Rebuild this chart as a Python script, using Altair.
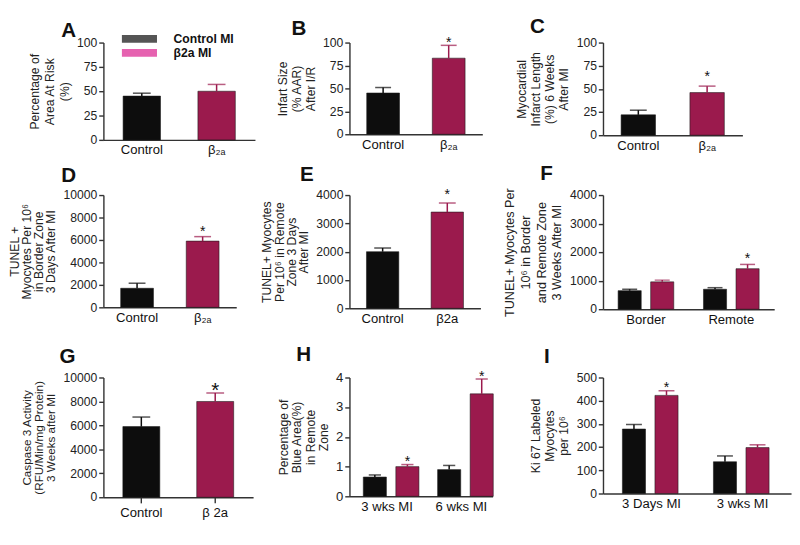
import altair as alt
import pandas as pd

FONT = "Liberation Sans"
GROUPS = ["Control MI", "β2a MI"]
BAR_COLORS = ["#0d0d0d", "#9b1a4d"]
LEGEND_COLORS = ["#0d0d0d", "#dc1f8e"]

# ---------------- data ----------------
A_cats = ["Control", "β₂ₐ"]
A_mean = [45, 50]
A_err = [3, 7]
A_sig = [False, False]

B_cats = ["Control", "β₂ₐ"]
B_mean = [45, 83]
B_err = [6, 14]
B_sig = [False, True]

C_cats = ["Control", "β₂ₐ"]
C_mean = [22, 46]
C_err = [5, 7]
C_sig = [False, True]

D_cats = ["Control", "β₂ₐ"]
D_mean = [1700, 5900]
D_err = [450, 400]
D_sig = [False, True]

E_cats = ["Control", "β2a"]
E_mean = [2000, 3400]
E_err = [130, 320]
E_sig = [False, True]

F_cats = ["Border", "Remote"]
F_ctrl_mean = [650, 700]
F_ctrl_err = [50, 55]
F_b2a_mean = [960, 1420]
F_b2a_err = [60, 150]
F_b2a_sig = [False, True]

G_cats = ["Control", "β 2a"]
G_mean = [5900, 8000]
G_err = [800, 700]
G_sig = [False, True]

H_cats = ["3 wks MI", "6 wks MI"]
H_ctrl_mean = [0.65, 0.9]
H_ctrl_err = [0.07, 0.14]
H_b2a_mean = [1.0, 3.45]
H_b2a_err = [0.07, 0.5]
H_b2a_sig = [True, True]

I_cats = ["3 Days MI", "3 wks MI"]
I_ctrl_mean = [278, 137]
I_ctrl_err = [20, 25]
I_b2a_mean = [423, 198]
I_b2a_err = [20, 12]
I_b2a_sig = [True, False]

TITLES = {
    "A": ["Percentage of", "Area At Risk", "(%)"],
    "B": ["Infart Size", "(% AAR)", "After I/R"],
    "C": ["Myocardial", "Infarct Length", "(%) 6 Weeks", "After MI"],
    "D": ["TUNEL +", "Myocytes Per 10⁶", "in Border Zone", "3 Days After MI"],
    "E": ["TUNEL+ Myocytes", "Per 10⁶ in Remote", "Zone 3 Days", "After MI"],
    "F": ["TUNEL+ Myocytes Per", "10⁶ in Border", "and Remote Zone", "3 Weeks After MI"],
    "G": ["Caspase 3 Activity", "(RFU/Min/mg Protein)", "3 Weeks after MI"],
    "H": ["Percentage of", "Blue Area(%)", "in Remote", "Zone"],
    "I": ["Ki 67 Labeled", "Myocytes", "per 10⁶"],
}


def single_df(cats, mean, err, sig):
    return pd.DataFrame({"cat": cats, "grp": GROUPS, "mean": mean, "err": err, "sig": sig})


def grouped_df(cats, cm, ce, bm, be, bs):
    rows = []
    for i, c in enumerate(cats):
        rows.append(dict(cat=c, grp=GROUPS[0], mean=cm[i], err=ce[i], sig=False))
        rows.append(dict(cat=c, grp=GROUPS[1], mean=bm[i], err=be[i], sig=bs[i]))
    return pd.DataFrame(rows)


def spacer(w, h):
    return (alt.Chart(pd.DataFrame({"v": [0]}))
            .mark_text()
            .encode(text=alt.value(""))
            .properties(width=w, height=h))


def panel(df, cats, letter, ymax, ystep, w, h, ldx, loff, star_dy, capw,
          grouped=False, xpad=(0.5, 0.263, 0.5), opad=0.3, xticks=False,
          tsize=13, tlh=15, lsize=13, xlsize=14, star_size=15, legend=False):
    pi, po, al = xpad
    xscale = alt.Scale(paddingInner=pi, paddingOuter=po, align=al)
    xaxis = alt.Axis(title="", labelAngle=0, ticks=xticks, tickSize=6,
                     labelFontSize=xlsize, labelPadding=4, labelColor="#111")
    x = alt.X("cat:N", sort=cats, scale=xscale, axis=xaxis)
    yaxis = alt.Axis(title=TITLES[letter], values=list(range(0, ymax + 1, ystep)),
                     format="d", titleFontSize=tsize, titleLineHeight=tlh,
                     labelFontSize=lsize)
    yscale = alt.Scale(domain=[0, ymax], nice=False)

    def Y(field):
        return alt.Y(field, scale=yscale, axis=yaxis)

    color = alt.Color("grp:N", scale=alt.Scale(domain=GROUPS, range=BAR_COLORS), legend=None)
    enc = dict(x=x, color=color)
    if grouped:
        enc["xOffset"] = alt.XOffset("grp:N", sort=GROUPS,
                                     scale=alt.Scale(paddingInner=opad, paddingOuter=0))
    base = alt.Chart(df).transform_calculate(top="datum.mean + datum.err")
    bars = base.mark_bar(stroke="#1a1a1a", strokeWidth=0.6).encode(y=Y("mean:Q"), **enc)
    whisk = base.mark_rule(strokeWidth=1.6).encode(y=Y("mean:Q"), y2="top:Q", **enc)
    cap = base.mark_tick(thickness=1.6, size=capw).encode(y=Y("top:Q"), **enc)
    senc = dict(x=x)
    if grouped:
        senc["xOffset"] = enc["xOffset"]
    star = (base.transform_filter("datum.sig")
            .mark_text(text="*", fontSize=star_size, dy=star_dy, baseline="middle",
                       font=FONT, color="#111")
            .encode(y=Y("top:Q"), **senc))
    layers = [bars, whisk, cap, star]
    if legend:
        leg = (alt.Chart(pd.DataFrame({"grp": GROUPS}))
               .transform_filter("false")
               .mark_square()
               .encode(fill=alt.Fill("grp:N",
                                     scale=alt.Scale(domain=GROUPS, range=LEGEND_COLORS),
                                     legend=alt.Legend(
                                         orient="none", legendX=31, legendY=-11.5,
                                         title="", padding=0, rowPadding=0,
                                         symbolType="M-2.5,-0.55H2.5V0.55H-2.5Z",
                                         symbolSize=225, symbolStrokeWidth=0,
                                         labelFontSize=13, labelFontWeight="bold",
                                         labelFont=FONT, labelColor="#111",
                                         labelOffset=29))))
        layers.append(leg)
    title = alt.TitleParams(text=letter, anchor="start", frame="group", dx=ldx,
                            offset=loff, fontSize=22, fontWeight="bold", font=FONT,
                            color="#111", baseline="alphabetic")
    ch = alt.layer(*layers).properties(width=w, height=h, title=title)
    if legend:
        ch = ch.resolve_scale(fill="independent").resolve_legend(fill="independent")
    return ch


pA = panel(single_df(A_cats, A_mean, A_err, A_sig), A_cats, "A", 100, 25, 162, 104,
           -45, -28, -3, 19, tlh=16, legend=True)
pB = panel(single_df(B_cats, B_mean, B_err, B_sig), B_cats, "B", 100, 25, 142, 98,
           -62, -21, -3, 17)
pC = panel(single_df(C_cats, C_mean, C_err, C_sig), C_cats, "C", 100, 25, 149, 99,
           -78, -18, -11, 18)
pD = panel(single_df(D_cats, D_mean, D_err, D_sig), D_cats, "D", 10000, 2000, 142, 120,
           -45, -14, -6, 18, tsize=13, tlh=13)
pE = panel(single_df(E_cats, E_mean, E_err, E_sig), E_cats, "E", 4000, 1000, 140, 121,
           -53, -14, -9, 18, tsize=13, tlh=13)
pF = panel(grouped_df(F_cats, F_ctrl_mean, F_ctrl_err, F_b2a_mean, F_b2a_err, F_b2a_sig),
           F_cats, "F", 4000, 1000, 183, 122, -67, -14, -7, 16, grouped=True,
           xpad=(0.348, 0.177, 0.5), opad=0.29, tsize=13.5, tlh=17)
pG = panel(single_df(G_cats, G_mean, G_err, G_sig), G_cats, "G", 10000, 2000, 160, 128,
           -47, -13, -3, 19, xticks=True, tsize=12.5, tlh=13, star_size=22)
pH = panel(grouped_df(H_cats, H_ctrl_mean, H_ctrl_err, H_b2a_mean, H_b2a_err, H_b2a_sig),
           H_cats, "H", 4, 1, 153, 127, -57, -13, -3, 13, grouped=True,
           xpad=(0.36, 0.143, 0.65), opad=0.33, tsize=13, tlh=14, lsize=14)
pI = panel(grouped_df(I_cats, I_ctrl_mean, I_ctrl_err, I_b2a_mean, I_b2a_err, I_b2a_sig),
           I_cats, "I", 500, 100, 201, 124, -63, -13, -4, 17, grouped=True,
           xpad=(0.36, 0.213, 0.5), opad=0.32, tsize=13, tlh=15)

# grid: 5 columns (panel, gap, panel, gap, panel); spacer rows set the vertical gaps.
cells = [
    pA, spacer(97, 1), pB, spacer(118, 1), pC,
    spacer(142, 59), spacer(1, 1), spacer(140, 1), spacer(1, 1), spacer(183, 1),
    pD, spacer(101, 1), pE, spacer(115, 1), pF,
    spacer(160, 73), spacer(1, 1), spacer(153, 1), spacer(1, 1), spacer(201, 1),
    pG, spacer(87, 1), pH, spacer(90, 1), pI,
]

chart = (alt.concat(*cells, columns=5, spacing=0, bounds="flush", align="none")
         .properties(padding={"left": 0, "top": -10, "right": 0, "bottom": -8})
         .configure_view(stroke="transparent")
         .configure_axis(domainColor="#333", domainWidth=1.5, tickColor="#333", tickWidth=1.5,
                         tickSize=5, labelFont=FONT, titleFont=FONT, labelColor="#222",
                         titleColor="#222", grid=False, titleFontWeight="normal")
         .configure_axisY(titlePadding=6, labelPadding=2)
         .configure_legend(labelFont=FONT))

chart.save("out.html", embed_options={"renderer": "svg", "actions": False})
